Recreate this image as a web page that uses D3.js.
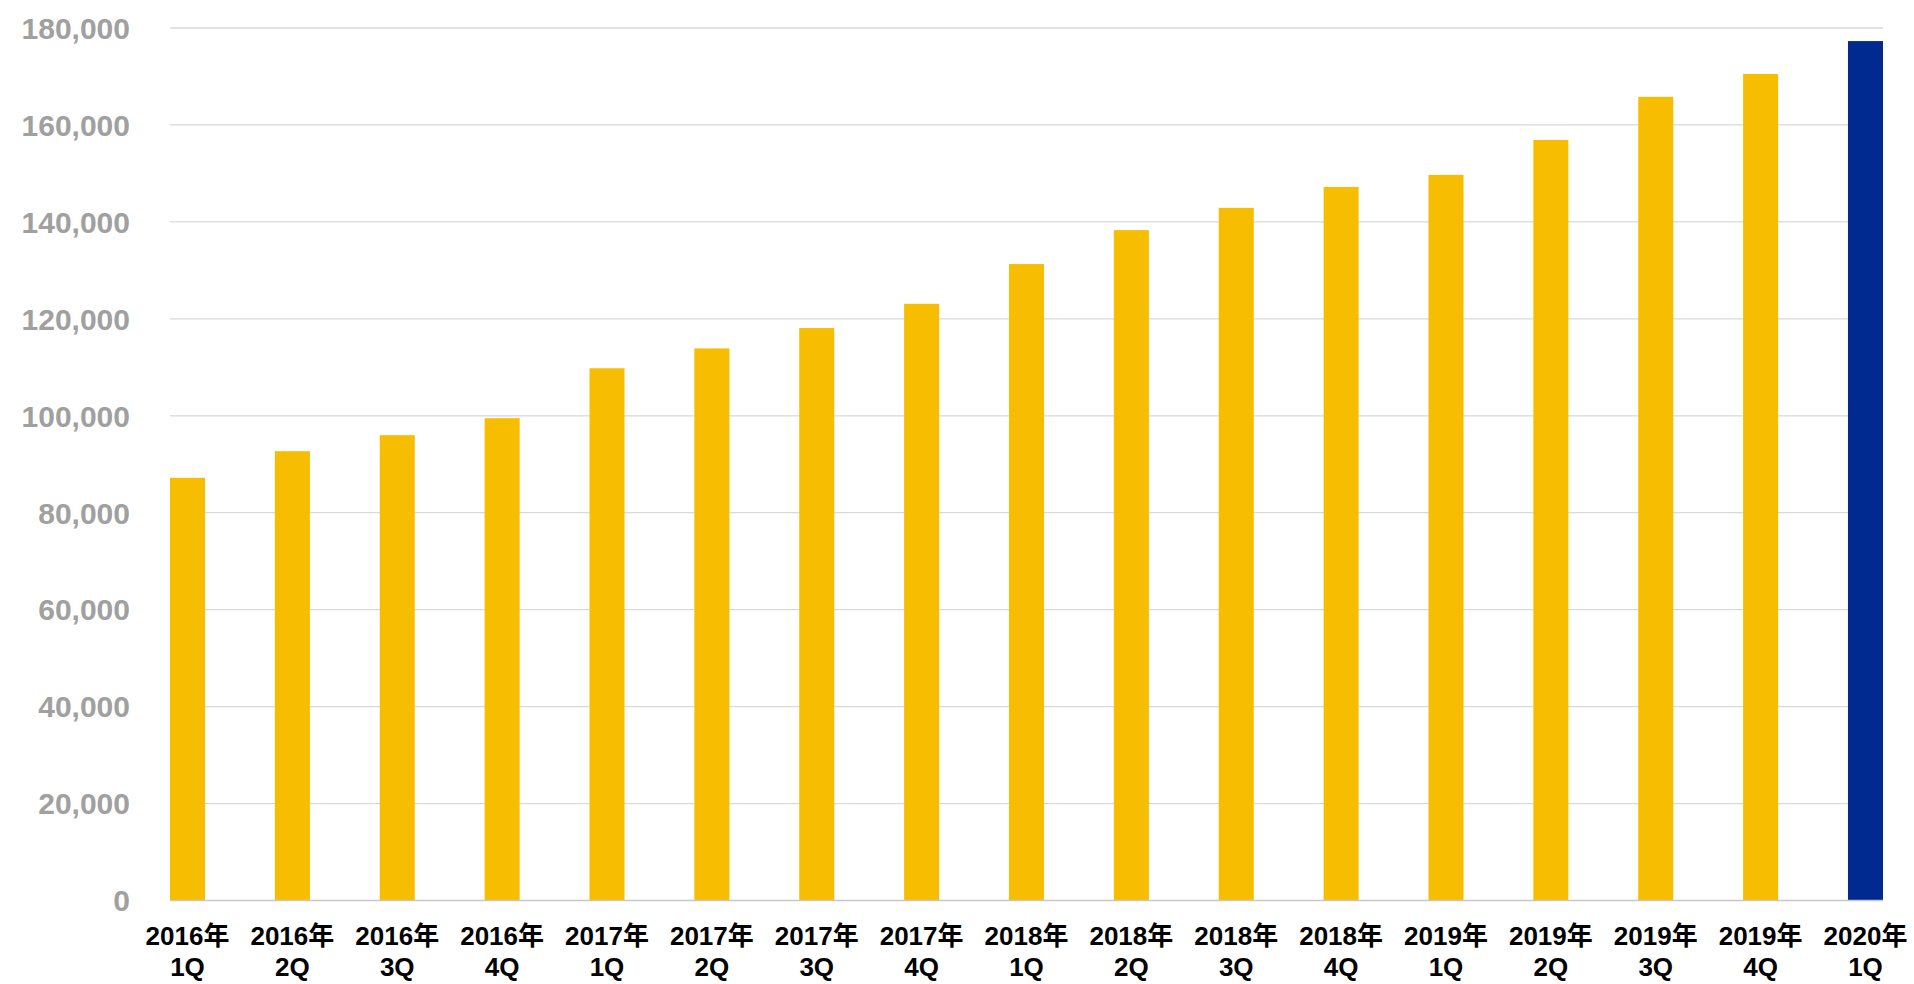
<!DOCTYPE html>
<html>
<head>
<meta charset="utf-8">
<script src="https://cdn.jsdelivr.net/npm/d3@7"></script>
<style>
html,body{margin:0;padding:0;background:#fff;}
svg{display:block;}
</style>
</head>
<body>
<svg id="chart" width="1914" height="984"></svg>
<script>
const yearLabels = ["2016年","2016年","2016年","2016年","2017年","2017年","2017年","2017年","2018年","2018年","2018年","2018年","2019年","2019年","2019年","2019年","2020年"];
const quarterLabels = ["1Q","2Q","3Q","4Q","1Q","2Q","3Q","4Q","1Q","2Q","3Q","4Q","1Q","2Q","3Q","4Q","1Q"];
const values = [87200, 92700, 96000, 99500, 109800, 113900, 118100, 123100, 131300, 138300, 142900, 147200, 149700, 156900, 165800, 170500, 177300];
const yTicks = [0, 20000, 40000, 60000, 80000, 100000, 120000, 140000, 160000, 180000];

(function(){
const svg = d3.select("#chart");
const pLeft = 170, pRight = 1883, pTop = 28, pBottom = 900.5;
const keys = values.map((d,i)=>i);

const x = d3.scaleBand().domain(keys).range([pLeft, pRight]).paddingInner(0.666).paddingOuter(0);
const y = d3.scaleLinear().domain([0, 180000]).range([pBottom, pTop]);

// gridlines
svg.append("g").selectAll("line").data(yTicks.filter(d=>d>0)).join("line")
  .attr("x1", pLeft).attr("x2", pRight)
  .attr("y1", d=>y(d)).attr("y2", d=>y(d))
  .attr("stroke", "#d9d9d9").attr("stroke-width", 1.3);

// bars
svg.append("g").selectAll("rect").data(values).join("rect")
  .attr("x", (d,i)=>x(i)).attr("width", x.bandwidth())
  .attr("y", d=>y(d)).attr("height", d=>y(0)-y(d))
  .attr("fill", (d,i)=> i===values.length-1 ? "#002A8F" : "#F7BD00");

// baseline
svg.append("line").attr("x1", pLeft).attr("x2", pRight)
  .attr("y1", y(0)).attr("y2", y(0))
  .attr("stroke", "#c8c8c8").attr("stroke-width", 1.3);

// y labels
const fmt = d3.format(",");
svg.append("g").selectAll("text").data(yTicks).join("text")
  .attr("x", 130).attr("y", d=>y(d)).attr("dy", "0.36em")
  .attr("text-anchor", "end")
  .attr("font-family", "'Liberation Sans', Arial, sans-serif")
  .attr("font-weight", "bold").attr("font-size", 30)
  .attr("fill", "#a0a0a0")
  .text(d=>fmt(d));

// x labels
const xl = svg.append("g").selectAll("text").data(keys).join("text")
  .attr("text-anchor", "middle")
  .attr("font-family", "'Liberation Sans', 'Noto Sans CJK JP', Arial, sans-serif")
  .attr("font-weight", "bold").attr("font-size", 26)
  .attr("fill", "#000");
xl.append("tspan").attr("x", d=>x(d)+x.bandwidth()/2).attr("y", 945).text(d=>yearLabels[d]);
xl.append("tspan").attr("x", d=>x(d)+x.bandwidth()/2).attr("y", 976).text(d=>quarterLabels[d]);
})();
</script>
</body>
</html>
